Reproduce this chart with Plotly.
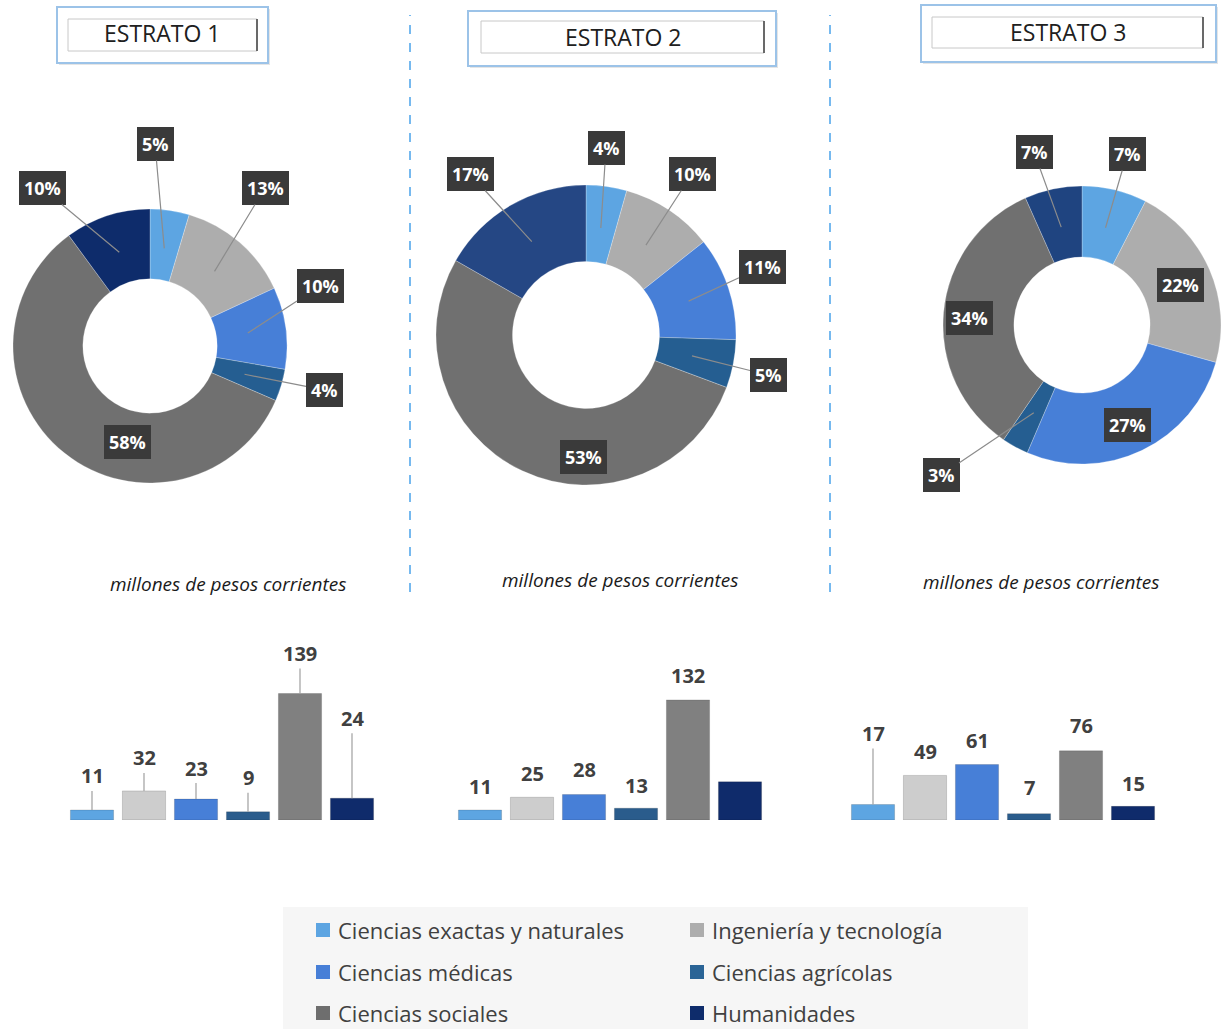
import math
import plotly.graph_objects as go

W, H = 1223, 1029

# ---------------- data ----------------
categories = ["Ciencias exactas y naturales", "Ingeniería y tecnología", "Ciencias médicas",
              "Ciencias agrícolas", "Ciencias sociales", "Humanidades"]
strata = ["ESTRATO 1", "ESTRATO 2", "ESTRATO 3"]
values_e1 = [11, 32, 23, 9, 139, 24]
values_e2 = [11, 25, 28, 13, 132, 42]
values_e3 = [17, 49, 61, 7, 76, 15]
pct_e1 = ["5%", "13%", "10%", "4%", "58%", "10%"]
pct_e2 = ["4%", "10%", "11%", "5%", "53%", "17%"]
pct_e3 = ["7%", "22%", "27%", "3%", "34%", "7%"]
bar_text_e1 = ["11", "32", "23", "9", "139", "24"]
bar_text_e2 = ["11", "25", "28", "13", "132", ""]
bar_text_e3 = ["17", "49", "61", "7", "76", "15"]
subtitle = "millones de pesos corrientes"

values = [values_e1, values_e2, values_e3]
pcts = [pct_e1, pct_e2, pct_e3]
bar_texts = [bar_text_e1, bar_text_e2, bar_text_e3]

# ---------------- styles / layout ----------------
pie_colors = [
    ["#5DA5E2", "#ADADAD", "#477FD7", "#255E91", "#707070", "#0E2C6B"],
    ["#5DA5E2", "#ADADAD", "#477FD7", "#255E91", "#707070", "#254784"],
    ["#5DA5E2", "#ADADAD", "#477FD7", "#255E91", "#707070", "#1F4480"],
]
bar_colors = ["#5DA5E2", "#CDCDCD", "#477FD7", "#2A5C8C", "#808080", "#0F2B6B"]
legend_colors = ["#5DA5E2", "#ADADAD", "#477FD7", "#2A6496", "#6E6E6E", "#0E2C6B"]

# donut centre (px) and outer radius (px)
donut_geom = [(150, 346, 137), (586, 335, 150), (1082, 325, 139)]
hole = 0.49
# label box centres (px) and whether a leader line is drawn
label_pos = [
    [(155, 144, True), (265, 188, True), (320, 286, True), (324, 390, True), (127, 442, False), (42, 188, True)],
    [(606, 148, True), (692, 174, True), (762, 267, True), (768, 375, True), (583, 457, False), (470, 174, True)],
    [(1127, 154, True), (1180, 285, False), (1127, 425, False), (941, 475, True), (969, 318, False), (1034, 152, True)],
]
# bar groups: x-domain (px) ; baseline and top (px)
bar_xdom = [(66, 378), (454, 766), (847, 1159)]
bar_y_px = (820, 640)
bar_yrange = [0, 197.8]
bar_label_off = [
    [34, 33, 31, 34, 40, 80],
    [23, 24, 25, 23, 24, 24],
    [71, 24, 24, 26, 25, 23],
]
bar_leader = [
    [True, True, True, True, True, True],
    [False, False, False, False, False, False],
    [True, False, False, False, False, False],
]
title_boxes = [
    ((57, 7, 268, 63), (68, 19, 257, 51), (162, 33)),
    ((468, 11, 776, 66), (481, 21, 764, 53), (623, 37)),
    ((921, 5, 1216, 62), (932, 17, 1203, 48), (1068, 32)),
]
subtitle_pos = [(228, 584), (620, 580), (1041, 582)]
sep_x = [410, 830]


def px(x):
    return x / W


def py(y):
    return 1 - y / H


fig = go.Figure()
annotations = []
shapes = []

# ---------------- donuts ----------------
for i in range(3):
    cx, cy, r = donut_geom[i]
    fig.add_trace(go.Pie(
        values=values[i], labels=categories, hole=hole, sort=False,
        direction="clockwise", rotation=0, textinfo="none", hoverinfo="label+value+percent",
        marker=dict(colors=pie_colors[i], line=dict(color="rgba(255,255,255,0.25)", width=1)),
        domain=dict(x=[px(cx - r), px(cx + r)], y=[py(cy + r), py(cy - r)]),
        showlegend=False,
    ))
    total = sum(values[i])
    cum = 0
    for j, v in enumerate(values[i]):
        mid = (cum + v / 2) / total * 2 * math.pi
        cum += v
        rt = 0.72 * r
        tx, ty = cx + rt * math.sin(mid), cy - rt * math.cos(mid)
        lx, ly, lead = label_pos[i][j]
        common = dict(
            text="<b>%s</b>" % pcts[i][j],
            font=dict(family="Open Sans", size=18, color="white"),
            bgcolor="#3A3A3A", borderpad=4, bordercolor="#3A3A3A", borderwidth=1,
            xref="paper", yref="paper",
        )
        if lead:
            annotations.append(dict(
                x=px(tx), y=py(ty), ax=lx - tx, ay=ly - ty, axref="pixel", ayref="pixel",
                showarrow=True, arrowhead=0, arrowwidth=1.2, arrowcolor="#8C8C8C", standoff=0,
                **common))
        else:
            annotations.append(dict(x=px(lx), y=py(ly), showarrow=False,
                                    xanchor="center", yanchor="middle", **common))

# ---------------- bars ----------------
for i in range(3):
    xa = "x%d" % (i + 2)
    ya = "y%d" % (i + 2)
    fig.add_trace(go.Bar(
        x=categories, y=values[i], xaxis=xa, yaxis=ya,
        marker=dict(color=bar_colors, line=dict(color="rgba(0,0,0,0.15)", width=1)),
        showlegend=False, hoverinfo="x+y",
    ))
    fig.update_layout(**{
        "xaxis%d" % (i + 2): dict(domain=[px(bar_xdom[i][0]), px(bar_xdom[i][1])], visible=False,
                                  anchor=ya, fixedrange=True),
        "yaxis%d" % (i + 2): dict(domain=[py(bar_y_px[0]), py(bar_y_px[1])], range=bar_yrange,
                                  visible=False, anchor=xa, fixedrange=True),
    })
    for j, v in enumerate(values[i]):
        if not bar_texts[i][j]:
            continue
        common = dict(text="<b>%s</b>" % bar_texts[i][j],
                      font=dict(family="Open Sans", size=20, color="#404040"),
                      xref=xa, yref=ya, x=categories[j], y=v)
        if bar_leader[i][j]:
            annotations.append(dict(showarrow=True, arrowhead=0, arrowwidth=1.2,
                                    arrowcolor="#A0A0A0", standoff=0, ax=0,
                                    ay=-bar_label_off[i][j], **common))
        else:
            annotations.append(dict(showarrow=False, yshift=bar_label_off[i][j],
                                    yanchor="middle", **common))

fig.update_layout(bargap=0.17)

# ---------------- titles ----------------
for i in range(3):
    (ox0, oy0, ox1, oy1), (ix0, iy0, ix1, iy1), (tx, ty) = title_boxes[i]
    shapes.append(dict(type="rect", xref="paper", yref="paper",
                       x0=px(ox0 + 2), x1=px(ox1 + 2), y0=py(oy1 + 2), y1=py(oy0 + 2),
                       line=dict(width=0), fillcolor="rgba(0,0,0,0.10)"))
    shapes.append(dict(type="rect", xref="paper", yref="paper",
                       x0=px(ox0), x1=px(ox1), y0=py(oy1), y1=py(oy0),
                       line=dict(color="#9CC3E8", width=2), fillcolor="white"))
    shapes.append(dict(type="rect", xref="paper", yref="paper",
                       x0=px(ix0), x1=px(ix1), y0=py(iy1), y1=py(iy0),
                       line=dict(color="#C8C8C8", width=1), fillcolor="white"))
    shapes.append(dict(type="line", xref="paper", yref="paper",
                       x0=px(ix1), x1=px(ix1), y0=py(iy1), y1=py(iy0),
                       line=dict(color="#404040", width=1.5)))
    annotations.append(dict(text=strata[i], x=px(tx), y=py(ty), xref="paper", yref="paper",
                            showarrow=False, xanchor="center", yanchor="middle",
                            font=dict(family="Open Sans", size=23, color="#202020")))
    sx, sy = subtitle_pos[i]
    annotations.append(dict(text="<i>%s</i>" % subtitle, x=px(sx), y=py(sy), xref="paper",
                            yref="paper", showarrow=False, xanchor="center", yanchor="middle",
                            font=dict(family="Open Sans", size=19, color="#1A1A1A")))

for x in sep_x:
    shapes.append(dict(type="line", xref="paper", yref="paper",
                       x0=px(x), x1=px(x), y0=py(592), y1=py(15),
                       line=dict(color="#4AA3EA", width=1.5, dash="dash")))

# ---------------- legend (manual) ----------------
shapes.append(dict(type="rect", xref="paper", yref="paper", layer="below",
                   x0=px(283), x1=px(1028), y0=py(1029), y1=py(907),
                   line=dict(width=0), fillcolor="#F6F6F6"))
leg_cols = [(316, 336), (690, 710)]
leg_rows = [930, 972, 1013]
for k, name in enumerate(categories):
    col, row = k % 2, k // 2
    sxp, txp = leg_cols[col]
    yc = leg_rows[row]
    shapes.append(dict(type="rect", xref="paper", yref="paper",
                       x0=px(sxp), x1=px(sxp + 14), y0=py(yc + 7), y1=py(yc - 7),
                       line=dict(width=0), fillcolor=legend_colors[k]))
    annotations.append(dict(text=name, x=px(txp), y=py(yc), xref="paper", yref="paper",
                            showarrow=False, xanchor="left", yanchor="middle",
                            font=dict(family="Open Sans", size=22, color="#404040")))

fig.update_layout(
    width=W, height=H, margin=dict(l=0, r=0, t=0, b=0),
    paper_bgcolor="white", plot_bgcolor="rgba(0,0,0,0)",
    annotations=annotations, shapes=shapes, showlegend=False,
)

fig.write_html("out.html", config={"displayModeBar": False},
               post_script="document.body.style.margin='0';")
